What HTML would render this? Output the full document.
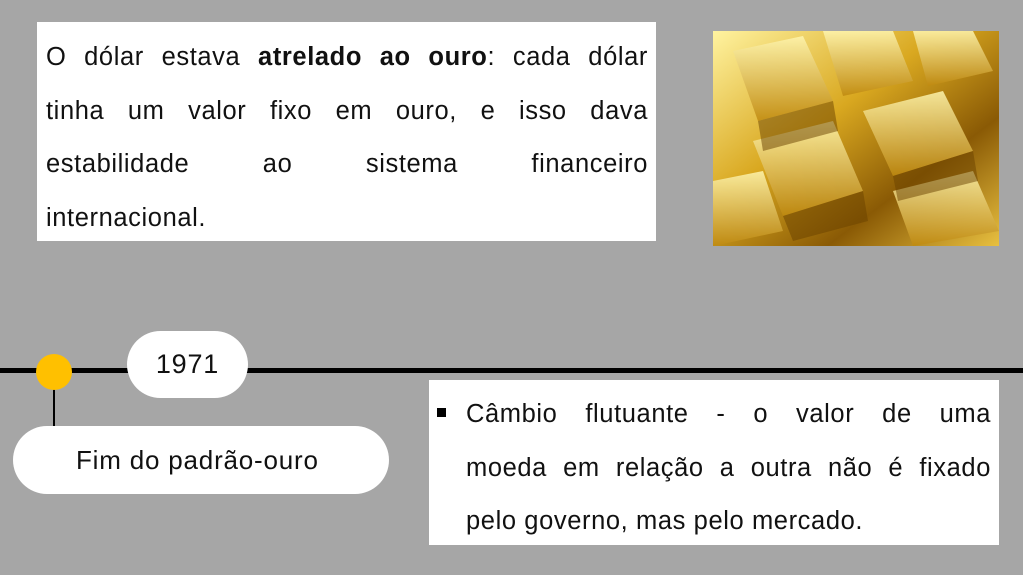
<!DOCTYPE html>
<html><head><style>
body{margin:0;width:1023px;height:575px;background:#a6a6a6;position:relative;overflow:hidden;font-family:"Liberation Sans","DejaVu Sans",sans-serif;}
.b{position:absolute;background:#fff;}
.t{position:absolute;font-size:25.5px;letter-spacing:0.6px;line-height:53.5px;color:#111;}
.t div{white-space:nowrap;text-align:justify;text-align-last:justify;}
.t div.l{text-align-last:left;}
.pill{position:absolute;background:#fff;border-radius:34px;font-size:26px;letter-spacing:0.8px;color:#111;display:flex;align-items:center;justify-content:center;}
</style></head><body>
<div class="b" style="left:37px;top:22px;width:619px;height:219px"></div>
<div class="t" style="left:46px;top:31px;width:602px;">
<div>O dólar estava <b>atrelado ao ouro</b>: cada dólar</div>
<div>tinha um valor fixo em ouro, e isso dava</div>
<div>estabilidade ao sistema financeiro</div>
<div class="l">internacional.</div>
</div>
<svg style="position:absolute;left:713px;top:31px" width="286" height="215">
<defs><linearGradient id="g" x1="0" y1="0" x2="1" y2="1"><stop offset="0" stop-color="#fff3a0"/><stop offset=".4" stop-color="#d9a820"/><stop offset=".7" stop-color="#8a5a05"/><stop offset="1" stop-color="#e8c040"/></linearGradient>
<linearGradient id="h" x1="0" y1="0" x2="0" y2="1"><stop offset="0" stop-color="#fff6b0"/><stop offset="1" stop-color="#c08a10"/></linearGradient></defs>
<rect width="286" height="215" fill="url(#g)"/>
<g fill="url(#h)" opacity=".85">
<polygon points="20,20 90,5 120,70 45,90"/><polygon points="110,0 180,0 200,50 130,65"/><polygon points="200,0 260,0 280,40 215,55"/>
<polygon points="40,110 120,90 150,160 70,185"/><polygon points="150,80 230,60 260,120 180,145"/><polygon points="0,150 50,140 70,200 0,215"/>
<polygon points="180,160 260,140 286,200 200,215"/></g>
<g fill="#6a4200" opacity=".5"><polygon points="45,90 120,70 125,100 50,120"/><polygon points="70,185 150,160 155,190 80,210"/><polygon points="180,145 260,120 265,150 185,170"/></g>
</svg>
<div style="position:absolute;left:0;top:368px;width:1023px;height:5px;background:#000"></div>
<div style="position:absolute;left:53px;top:385px;width:1.5px;height:62px;background:#000"></div>
<div style="position:absolute;left:36px;top:354px;width:36px;height:36px;border-radius:50%;background:#ffc000"></div>
<div class="pill" style="left:127px;top:331px;width:121px;height:67px;font-size:27px">1971</div>
<div class="pill" style="left:13px;top:426px;width:376px;height:68px;justify-content:flex-start;padding-left:63px;box-sizing:border-box;">Fim do padrão-ouro</div>
<div class="b" style="left:429px;top:380px;width:570px;height:165px"></div>
<div style="position:absolute;left:437px;top:408px;width:9px;height:9px;background:#000"></div>
<div class="t" style="left:466px;top:388px;width:525px;">
<div>Câmbio flutuante - o valor de uma</div>
<div>moeda em relação a outra não é fixado</div>
<div class="l">pelo governo, mas pelo mercado.</div>
</div>
</body></html>
